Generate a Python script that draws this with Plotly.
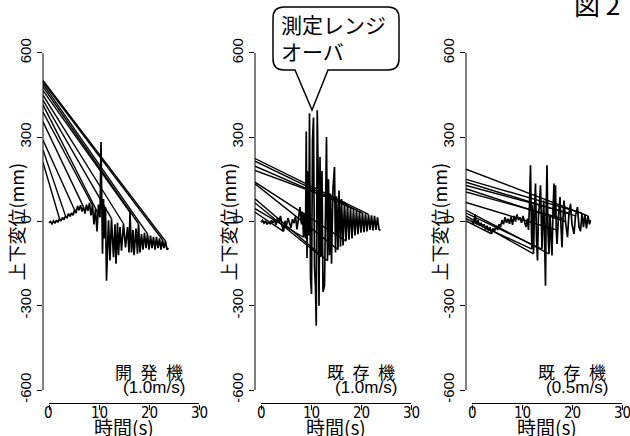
import plotly.graph_objects as go

# ---------------- data ----------------
panel_names = ["開\u2002発\u2002機", "既\u2002存\u2002機", "既\u2002存\u2002機"]
panel_speeds = ["(1.0m/s)", "(1.0m/s)", "(0.5m/s)"]
x_ticks = [0, 10, 20, 30]
y_ticks = [-600, -300, 0, 300, 600]
x_tick_text = ["0", "10", "20", "30"]
y_tick_text = ["-600", "-300", "0", "300", "600"]

# panel 1 : 開発機 1.0m/s
t1 = [0.0, 0.3, 0.6, 0.9, 1.2, 1.5, 1.8, 2.1, 2.4, 2.7, 3.0, 3.3, 3.6, 3.9, 4.2, 4.5, 4.8, 5.1, 5.4, 5.7,
      6.0, 6.3, 6.6, 6.9, 7.2, 7.5, 7.8, 8.1, 8.4, 8.7, 9.0, 9.3, 9.6, 9.9, 10.2, 10.4, 10.7, 10.9, 11.1, 11.3,
      11.5, 11.9, 12.2, 12.5, 12.9, 13.2, 13.4, 13.7, 13.9, 14.2, 14.5, 14.9, 15.3, 15.7, 16.0, 16.2, 16.5, 16.8,
      17.0, 17.4, 17.7, 17.9, 18.2, 18.5, 18.8, 19.1, 19.4, 19.7, 20.0, 20.3, 20.6, 20.9, 21.2, 21.5, 21.8, 22.1,
      22.4, 22.7, 23.0, 23.3, 23.6, 23.9]
y1 = [-5, 0, -8, 2, -6, 5, -3, 10, 2, 14, 6, 20, 12, 28, 18, 30, 22, 42, 30, 55,
      40, 58, 36, 52, 28, 60, 38, 66, 22, 58, -10, 45, -35, 60, 15, 283, -115, 80, -60, 51,
      -211, 4, -139, 10, -127, -10, -150, -5, -120, -20, -104, -8, -92, -20, -110, 33, -110, -30,
      -120, -25, -115, -8, -110, -45, -100, -40, -95, -44, -100, -50, -95, -55, -100, -55, -95, -60,
      -100, -65, -95, -70, -100, -95]
fan1_start = [210, 255, 290, 355, 390, 415, 432, 450, 466, 480, 490, 497, 502]
fan1_end_t = [2.1, 3.3, 5.1, 6.9, 8.7, 10.2, 12.5, 14.9, 16.2, 17.9, 19.7, 22.7, 23.3]
fan1_end_y = [10, 20, 42, 52, 58, 15, 10, -8, 33, -8, -44, -65, -70]

# panel 2 : 既存機 1.0m/s
t2 = [0.0, 0.3, 0.6, 0.9, 1.2, 1.5, 1.8, 2.1, 2.4, 2.7, 3.0, 3.3, 3.6, 3.9, 4.2, 4.5, 4.8, 5.1, 5.4, 5.7,
      6.0, 6.3, 6.6, 6.9, 7.2, 7.5, 7.8, 8.1, 8.3, 8.5, 8.7, 8.9, 9.05, 9.2, 9.4, 9.55, 9.7, 9.9, 10.1, 10.3,
      10.5, 10.7, 10.9, 11.05, 11.25, 11.45, 11.6, 11.8, 12.0, 12.2, 12.4, 12.7, 12.9, 13.1, 13.3, 13.5, 13.7,
      13.9, 14.1, 14.4, 14.7, 14.9, 15.1, 15.4, 15.6, 15.9, 16.1, 16.4, 16.7, 17.0, 17.3, 17.6, 17.9, 18.2,
      18.5, 18.8, 19.1, 19.4, 19.7, 20.0, 20.3, 20.6, 20.9, 21.2, 21.5, 21.8, 22.1, 22.4, 22.7, 23.0, 23.3,
      23.6, 23.9]
y2 = [-3, 4, -6, 2, -10, -2, -8, 4, -5, 8, -12, 12, -2, 20, -15, -35, 2, -12, 12, -4,
      -22, 8, -6, 18, -28, 12, 51, -10, 35, -56, 30, -60, 320, -130, 180, -50, 385, -200, -258, 290,
      370, -160, -240, -371, 396, 150, -300, 230, -125, 180, -250, -229, 190, 301, -140, 150, -120,
      100, -150, 120, 194, -110, 90, -100, 110, -90, 80, -85, 70, -70, 60, -65, 50, -60,
      45, -50, 40, -45, 35, -40, 30, -38, 28, -35, 25, -30, 22, -32, 20, -30, 15,
      -28, -32]
fan2_start = [224, 215, 197, 182, 140, 134, 81, 66, 46, 33]
fan2_end_t = [21.5, 20.3, 18.5, 17.3, 17.0, 15.4, 13.3, 12.0, 8.5, 4.5]
fan2_end_y = [25, 30, 45, 60, -70, -100, -140, -125, -56, -35]

# panel 3 : 既存機 0.5m/s
t3 = [0.0, 0.3, 0.6, 0.9, 1.2, 1.5, 1.8, 2.1, 2.4, 2.7, 3.0, 3.3, 3.6, 3.9, 4.2, 4.5, 4.8, 5.1, 5.4, 5.7,
      6.0, 6.3, 6.6, 6.9, 7.2, 7.5, 7.8, 8.1, 8.4, 8.7, 9.0, 9.3, 9.6, 9.9, 10.2, 10.5, 10.8, 11.1, 11.3,
      11.5, 11.7, 11.9, 12.0, 12.1, 12.3, 12.5, 12.7, 12.9, 13.1, 13.3, 13.5, 13.7, 13.85, 14.0, 14.2, 14.35,
      14.5, 14.7, 14.85, 15.0, 15.2, 15.4, 15.6, 15.8, 16.0, 16.2, 16.4, 16.55, 16.7, 16.85, 17.0, 17.3, 17.6,
      17.8, 18.0, 18.2, 18.4, 18.7, 19.1, 19.4, 19.7, 20.0, 20.4, 20.7, 21.1, 21.4, 21.7, 22.0, 22.3, 22.6,
      22.9, 23.2, 23.5, 23.7]
y3 = [0, -8, 25, -10, 5, -15, -5, -20, -10, -30, -15, -35, -20, -44, -25, -35, -15, -30, -10, -20,
      5, -10, 15, -5, 10, -8, 15, -12, 20, 0, 25, 5, 15, -5, 20, 0, -20, 10, -30,
      60, 200, -40, -98, 60, -115, 40, 135, -60, -139, 30, 60, 129, -40, -98, 20, 75,
      -50, -229, 60, 200, -40, -115, 20, -40, -121, 40, 135, 20, 129, -30, -80, 20, 87,
      -20, -92, 10, 75, 0, -56, 30, 63, -10, -44, 20, 51, -20, -35, 30, -20, 25,
      -25, 20, -10, 5]
fan3_start = [186, 150, 140, 128, 117, 105, 68, 40, 30, 20, 10, 2]
fan3_end_t = [23.2, 22.0, 20.7, 19.4, 18.7, 18.2, 16.85, 15.4, 14.0, 12.3, 12.0, 3.9]
fan3_end_y = [20, 30, 20, 30, 0, 10, -30, -115, -98, -115, -98, -44]

series = [(t1, y1), (t2, y2), (t3, y3)]
fans = [(fan1_start, fan1_end_t, fan1_end_y),
        (fan2_start, fan2_end_t, fan2_end_y),
        (fan3_start, fan3_end_t, fan3_end_y)]

# ---------------- layout helpers ----------------
W, H = 630, 436
X_RANGE = [-1.2, 31.2]
Y_RANGE = [-648, 648]
def fx(p):
    return p / W
def fy(p):
    return 1 - p / H

panel_left = [43, 255, 466]
panel_w = 162
y_dom = [fy(403.5), fy(39.5)]

NUM_FONT = "Liberation Sans, Arial, sans-serif"
NARROW_FONT = "Liberation Sans Narrow, Arial Narrow, DejaVu Sans Condensed, Liberation Sans, sans-serif"
CJK_FONT = "Noto Sans CJK JP, sans-serif"

fig = go.Figure()
layout = dict(width=W, height=H, margin=dict(l=0, r=0, t=0, b=0),
              paper_bgcolor="white", plot_bgcolor="white", showlegend=False)
shapes = []
annotations = []

for i in range(3):
    n = "" if i == 0 else str(i + 1)
    xa, ya = "x" + n, "y" + n
    t, y = series[i]
    fs, fe_t, fe_y = fans[i]
    fx_pts, fy_pts = [], []
    for s, et, ey in zip(fs, fe_t, fe_y):
        fx_pts += [X_RANGE[0], et, None]
        fy_pts += [s, ey, None]
    fig.add_trace(go.Scatter(x=fx_pts, y=fy_pts, mode="lines", xaxis=xa, yaxis=ya,
                             line=dict(color="black", width=1.4), hoverinfo="skip"))
    fig.add_trace(go.Scatter(x=t, y=y, mode="lines", xaxis=xa, yaxis=ya,
                             line=dict(color="black", width=1.7), hoverinfo="skip"))
    layout["xaxis" + n] = dict(domain=[fx(panel_left[i]), fx(panel_left[i] + panel_w)],
                               range=X_RANGE, anchor=ya, showgrid=False, zeroline=False, showline=False,
                               tickmode="array", tickvals=x_ticks, showticklabels=False,
                               ticks="outside", ticklen=5, tickcolor="black", tickwidth=1)
    layout["yaxis" + n] = dict(domain=y_dom, range=Y_RANGE, anchor=xa, showgrid=False, zeroline=False,
                               showline=False, tickmode="array", tickvals=y_ticks, ticktext=y_tick_text,
                               ticks="outside", ticklen=5, tickcolor="black", tickwidth=1, tickangle=-90,
                               tickfont=dict(family=NUM_FONT, size=15, color="black"))
    # detached R-style axis lines
    shapes.append(dict(type="line", xref=xa, yref=ya + " domain", x0=x_ticks[0], x1=x_ticks[-1], y0=0, y1=0,
                       line=dict(color="black", width=1)))
    shapes.append(dict(type="line", xref=xa + " domain", yref=ya, x0=0, x1=0, y0=y_ticks[0], y1=y_ticks[-1],
                       line=dict(color="black", width=1)))
    # x tick labels placed close under the ticks
    for v, lab in zip(x_ticks, x_tick_text):
        annotations.append(dict(x=v, xref=xa, y=fy(413), yref="paper", text=lab, showarrow=False,
                                xanchor="center", yanchor="middle",
                                font=dict(family=NARROW_FONT, size=15, color="black")))
    # axis titles
    annotations.append(dict(x=15, xref=xa, y=fy(426), yref="paper", text="時間(s)", showarrow=False,
                            xanchor="center", yanchor="middle",
                            font=dict(family=CJK_FONT, size=19, color="black")))
    annotations.append(dict(x=fx(panel_left[i] - 28), xref="paper", y=0, yref=ya, text="上下変位(mm)",
                            textangle=-90, showarrow=False, xanchor="center", yanchor="middle",
                            font=dict(family=CJK_FONT, size=18, color="black")))
    annotations.append(dict(x=20, xref=xa, y=fy(371), yref="paper", text=panel_names[i], showarrow=False,
                            xanchor="center", yanchor="middle",
                            font=dict(family=CJK_FONT, size=17, color="black")))
    annotations.append(dict(x=21, xref=xa, y=fy(387), yref="paper", text=panel_speeds[i], showarrow=False,
                            xanchor="center", yanchor="middle",
                            font=dict(family=NUM_FONT, size=17, color="black")))

# callout bubble in panel 2
L, R, T, B, r = 273, 399, 7, 70, 11
tail_l, tail_r, tip_x, tip_y = 295, 328, 312, 110
path = (f"M {fx(L + r)},{fy(T)} L {fx(R - r)},{fy(T)} Q {fx(R)},{fy(T)} {fx(R)},{fy(T + r)} "
        f"L {fx(R)},{fy(B - r)} Q {fx(R)},{fy(B)} {fx(R - r)},{fy(B)} "
        f"L {fx(tail_r)},{fy(B)} L {fx(tip_x)},{fy(tip_y)} L {fx(tail_l)},{fy(B)} "
        f"L {fx(L + r)},{fy(B)} Q {fx(L)},{fy(B)} {fx(L)},{fy(B - r)} "
        f"L {fx(L)},{fy(T + r)} Q {fx(L)},{fy(T)} {fx(L + r)},{fy(T)} Z")
shapes.append(dict(type="path", xref="paper", yref="paper", path=path, fillcolor="white",
                   line=dict(color="black", width=1.5)))
annotations.append(dict(x=fx(279), y=fy(7), xref="paper", yref="paper", xanchor="left", yanchor="top",
                        align="left", text="測定レンジ<br>オーバ", showarrow=False,
                        font=dict(family=CJK_FONT, size=21, color="black")))
# figure label
annotations.append(dict(x=fx(572), y=fy(3), xref="paper", yref="paper", xanchor="left", yanchor="middle",
                        text="図 2", showarrow=False, font=dict(family=CJK_FONT, size=26, color="black")))

layout["shapes"] = shapes
layout["annotations"] = annotations
fig.update_layout(**layout)
fig.write_html("out.html")
